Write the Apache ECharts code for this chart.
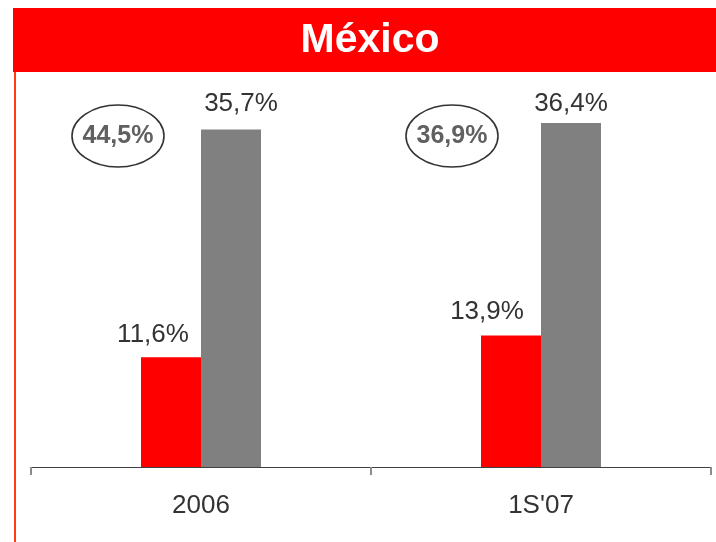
<!DOCTYPE html>
<html>
<head>
<meta charset="utf-8">
<style>
  html, body { margin: 0; padding: 0; background: #fff; }
  #chart { width: 716px; height: 542px; }
</style>
<script src="https://cdn.jsdelivr.net/npm/echarts@6/dist/echarts.min.js"></script>
</head>
<body>
<div id="chart"></div>
<script>
// Market-share figures for Mexico
const categories = ['2006', "1S'07"];
const redValues = [11.6, 13.9];
const grayValues = [35.7, 36.4];
const circledTotals = [44.5, 36.9];
const titleText = 'México';

// Label nudges [dx, dy] for each bar's value label
const redLabelShift = [[-18, 0], [-24, -1]];
const grayLabelShift = [[10, -3], [0, 4]];
// Horizontal offset of each circled total from its category centre
const circleShift = [-83, -89];

const FONT = 'Arial, "Liberation Sans", Helvetica, sans-serif';
const fmt = v => v.toFixed(1).replace('.', ',') + '%';

const chart = echarts.init(document.getElementById('chart'), null, { renderer: 'canvas' });

function barLabel(shift) {
  return {
    show: true,
    position: 'top',
    distance: 10,
    offset: shift,
    color: '#333333',
    fontSize: 26,
    fontFamily: FONT,
    formatter: p => fmt(p.value)
  };
}

chart.setOption({
  animation: false,
  backgroundColor: '#ffffff',
  grid: { left: 31, right: 5, top: 70, bottom: 75, containLabel: false },
  xAxis: {
    type: 'category',
    data: categories,
    axisLine: { show: true, lineStyle: { color: '#404040', width: 1 } },
    axisTick: { show: true, length: 8, lineStyle: { color: '#8c8c8c', width: 2 } },
    axisLabel: { color: '#333333', fontSize: 26, fontFamily: FONT, margin: 26 }
  },
  yAxis: {
    type: 'value',
    min: 0,
    max: 42,
    show: false,
    splitLine: { show: false }
  },
  series: [
    {
      type: 'bar',
      data: redValues.map((v, i) => ({ value: v, label: barLabel(redLabelShift[i]) })),
      itemStyle: { color: '#ff0000' },
      barWidth: 60,
      barGap: '0%'
    },
    {
      type: 'bar',
      data: grayValues.map((v, i) => ({ value: v, label: barLabel(grayLabelShift[i]) })),
      itemStyle: { color: '#808080' },
      barWidth: 60,
      barGap: '0%'
    }
  ],
  graphic: [
    { id: 'band', type: 'rect', z: 10, shape: { x: 13, y: 8, width: 710, height: 64 }, style: { fill: '#ff0000' } },
    { id: 'edge', type: 'rect', z: 10, shape: { x: 14, y: 72, width: 2, height: 480 }, style: { fill: '#ff3b14' } },
    {
      id: 'title', type: 'text', z: 11,
      style: { text: titleText, x: 370, y: 41, align: 'center', verticalAlign: 'middle',
               font: 'bold 41px ' + FONT, fill: '#ffffff' }
    }
  ]
});

// Circled totals placed beside each category's bars
const extra = [];
categories.forEach((c, i) => {
  const cx = chart.convertToPixel({ xAxisIndex: 0 }, c) + circleShift[i];
  const cy = 136;
  extra.push({
    id: 'ring' + i, type: 'ellipse', z: 12,
    shape: { cx: cx, cy: cy, rx: 46, ry: 31 },
    style: { fill: 'none', stroke: '#333333', lineWidth: 1.6 }
  });
  extra.push({
    id: 'total' + i, type: 'text', z: 13,
    style: { text: fmt(circledTotals[i]), x: cx, y: cy, align: 'center', verticalAlign: 'middle',
             font: 'bold 25px ' + FONT, fill: '#606060' }
  });
});
chart.setOption({ graphic: extra });
</script>
</body>
</html>
